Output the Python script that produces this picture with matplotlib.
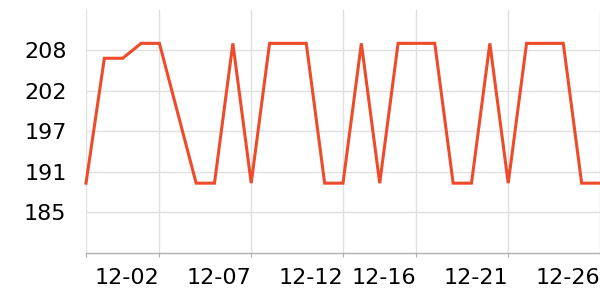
import matplotlib
matplotlib.use("Agg")
import matplotlib.pyplot as plt

dates = ["11-28", "11-29", "11-30", "12-01", "12-02", "12-03", "12-04", "12-05",
         "12-06", "12-07", "12-08", "12-09", "12-10", "12-11", "12-12", "12-13",
         "12-14", "12-15", "12-16", "12-17", "12-18", "12-19", "12-20", "12-21",
         "12-22", "12-23", "12-24", "12-25", "12-26"]
values = [189.4, 207.0, 207.0, 209.1, 209.1, 199.25, 189.4, 189.4,
          209.1, 189.4, 209.1, 209.1, 209.1, 189.4, 189.4, 209.1,
          189.4, 209.1, 209.1, 209.1, 189.4, 189.4, 209.1, 189.4,
          209.1, 209.1, 209.1, 189.4, 189.4]
x_tick_dates = ["11-28", "12-02", "12-07", "12-12", "12-16", "12-21", "12-26"]
x_tick_labels = ["", "12-02", "12-07", "12-12", "12-16", "12-21", "12-26"]
y_ticks = [185.3, 191.0, 196.7, 202.4, 208.1]
y_tick_labels = ["185", "191", "197", "202", "208"]
y_min, y_max = 179.6, 213.8

fig = plt.figure(figsize=(6, 3), dpi=100)
ax = fig.add_axes([86 / 600, (300 - 252.7) / 300, 514 / 600, 242.7 / 300])

xs = list(range(len(dates)))
ax.plot(xs, values, color="#ee4b2b", lw=2.2, solid_joinstyle="miter", clip_on=False, zorder=3)

ax.set_xlim(0, len(dates) - 1)
ax.set_ylim(y_min, y_max)

ax.set_xticks([dates.index(d) for d in x_tick_dates])
ax.set_xticklabels(x_tick_labels, ha="right", fontsize=16)
ax.set_yticks(y_ticks)
ax.set_yticklabels(y_tick_labels, fontsize=16)

ax.grid(True, color="#e0e0e0", lw=1)
ax.set_axisbelow(True)
for s in ["top", "right", "left"]:
    ax.spines[s].set_visible(False)
ax.spines["bottom"].set_color("#b0b0b0")
ax.spines["bottom"].set_linewidth(1)
ax.tick_params(axis="y", length=0, pad=14)
ax.tick_params(axis="x", length=3, color="#b0b0b0", pad=8)
for lbl in ax.get_xticklabels():
    lbl.set_horizontalalignment("right")

fig.savefig("out.png", dpi=100)
